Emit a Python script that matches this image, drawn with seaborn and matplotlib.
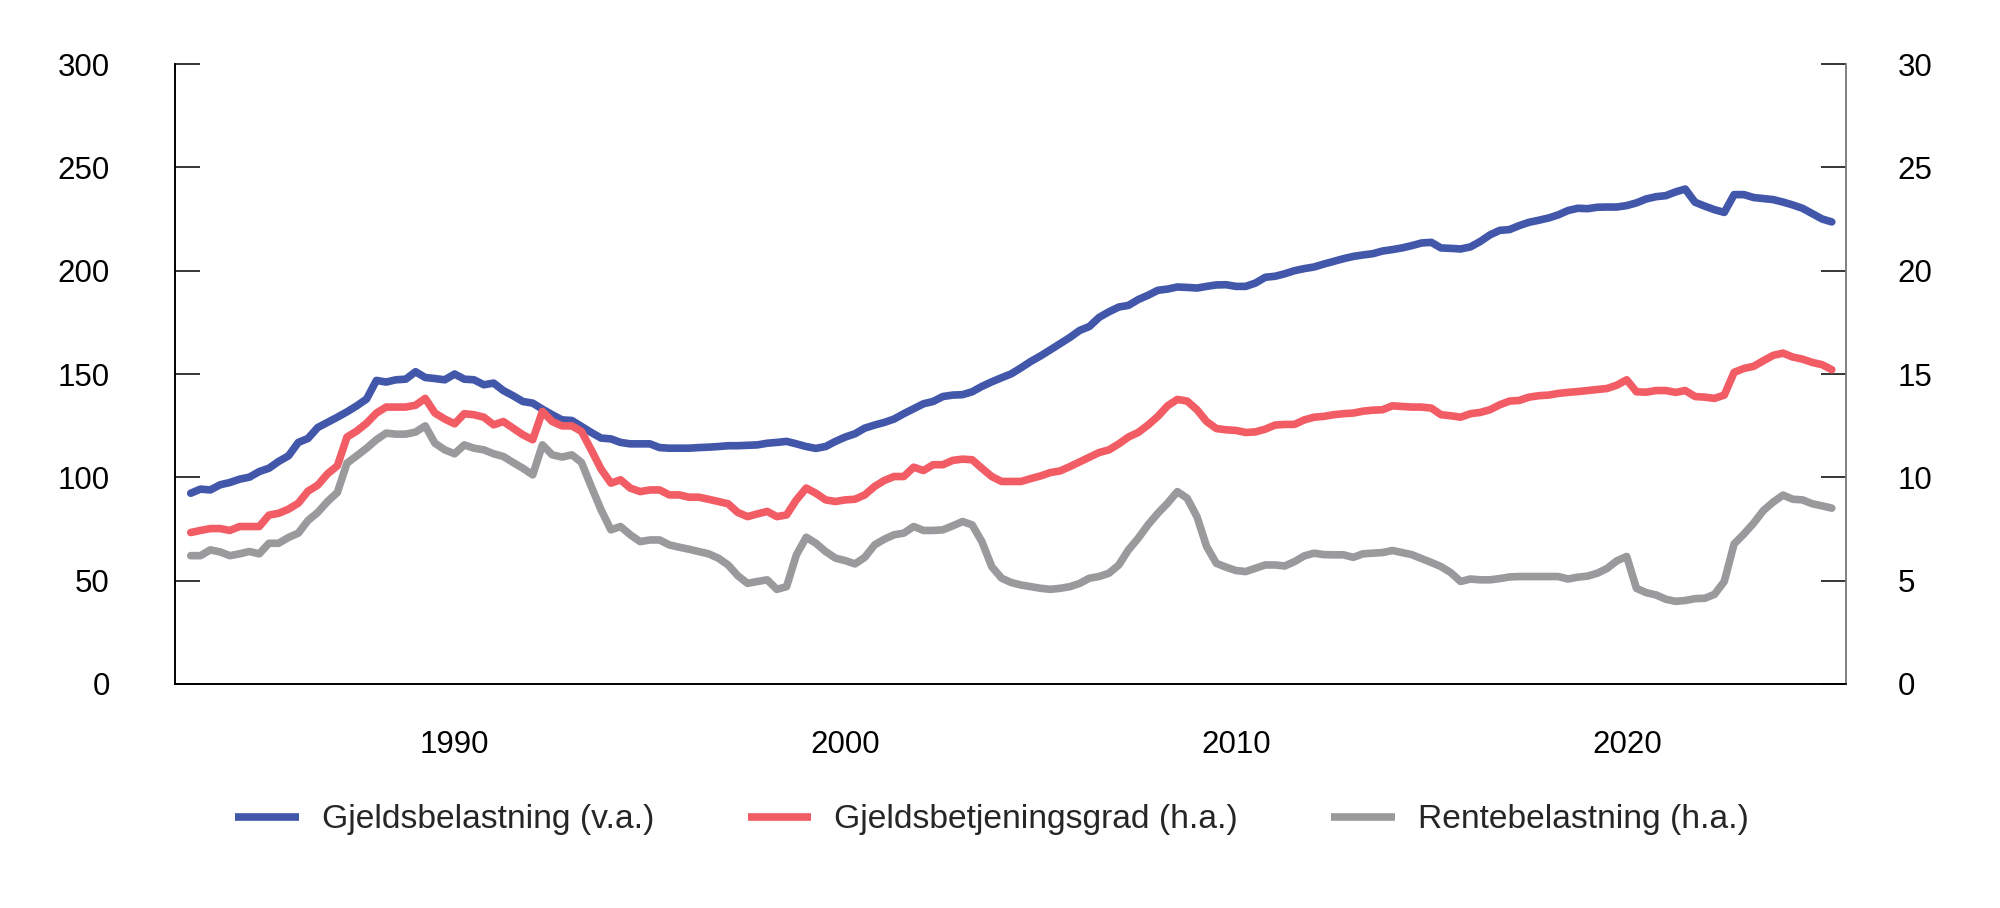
import matplotlib
matplotlib.use("Agg")
import matplotlib.pyplot as plt
import seaborn as sns
import pandas as pd

# quarterly observations, 1983Q1 - 2025Q1
quarters = pd.period_range("1983Q1", "2025Q1", freq="Q")

# Gjeldsbelastning, per cent (left axis)
gjeldsbelastning = [
    92.3, 94.3, 93.9, 96.4, 97.5, 99.1, 100.1, 102.8, 104.4, 107.7,
    110.4, 116.9, 118.8, 124.1, 126.6, 129.1, 131.7, 134.6, 137.9, 146.9,
    146.1, 147.2, 147.5, 151.1, 148.3, 147.8, 147.2, 150.0, 147.5, 147.2,
    144.8, 145.6, 142.0, 139.5, 136.7, 135.9, 133.0, 130.3, 127.8, 127.5,
    124.6, 121.7, 119.0, 118.6, 116.9, 116.2, 116.2, 116.2, 114.4, 114.1,
    114.1, 114.1, 114.4, 114.6, 114.9, 115.3, 115.3, 115.5, 115.7, 116.5,
    116.9, 117.4, 116.2, 114.9, 114.0, 114.9, 117.4, 119.5, 121.1, 123.8,
    125.3, 126.6, 128.2, 130.8, 133.2, 135.6, 136.7, 139.1, 139.8, 140.0,
    141.4, 144.0, 146.2, 148.2, 150.1, 153.0, 156.1, 158.8, 161.7, 164.7,
    167.7, 171.1, 173.0, 177.4, 180.1, 182.4, 183.2, 186.0, 188.1, 190.5,
    191.1, 192.1, 191.9, 191.6, 192.4, 193.1, 193.2, 192.4, 192.4, 194.0,
    196.8, 197.3, 198.5, 200.0, 201.0, 201.8, 203.2, 204.5, 205.8, 206.9,
    207.6, 208.2, 209.5, 210.2, 211.0, 212.1, 213.4, 213.7, 211.0, 210.8,
    210.5, 211.5, 214.1, 217.3, 219.5, 219.9, 221.8, 223.4, 224.4, 225.5,
    227.0, 229.1, 230.2, 230.0, 230.7, 230.8, 230.8, 231.5, 232.8, 234.7,
    235.8, 236.3, 238.1, 239.5, 233.1, 231.2, 229.5, 228.2, 236.8, 236.8,
    235.4, 234.9, 234.4, 233.2, 231.8, 230.2, 227.6, 225.0, 223.6,
]

# Gjeldsbetjeningsgrad, per cent (right axis)
gjeldsbetjeningsgrad = [
    7.33, 7.43, 7.52, 7.52, 7.43, 7.62, 7.62, 7.62, 8.17, 8.26,
    8.46, 8.75, 9.33, 9.62, 10.17, 10.56, 11.95, 12.24, 12.62, 13.11,
    13.40, 13.40, 13.40, 13.49, 13.82, 13.11, 12.82, 12.59, 13.08, 13.03,
    12.91, 12.54, 12.70, 12.38, 12.06, 11.82, 13.19, 12.70, 12.49, 12.49,
    12.22, 11.33, 10.40, 9.72, 9.88, 9.48, 9.31, 9.39, 9.39, 9.15,
    9.15, 9.04, 9.04, 8.94, 8.83, 8.72, 8.30, 8.10, 8.23, 8.35,
    8.10, 8.18, 8.91, 9.48, 9.23, 8.91, 8.83, 8.91, 8.94, 9.15,
    9.56, 9.85, 10.04, 10.04, 10.49, 10.33, 10.61, 10.61, 10.82, 10.88,
    10.85, 10.44, 10.04, 9.80, 9.80, 9.80, 9.94, 10.07, 10.23, 10.31,
    10.52, 10.75, 10.98, 11.20, 11.33, 11.62, 11.95, 12.17, 12.53, 12.95,
    13.46, 13.77, 13.69, 13.27, 12.70, 12.36, 12.30, 12.27, 12.17, 12.20,
    12.33, 12.53, 12.56, 12.56, 12.78, 12.91, 12.95, 13.03, 13.08, 13.11,
    13.20, 13.25, 13.27, 13.46, 13.43, 13.40, 13.40, 13.35, 13.03, 12.98,
    12.91, 13.08, 13.14, 13.27, 13.51, 13.69, 13.72, 13.88, 13.95, 13.98,
    14.06, 14.11, 14.15, 14.20, 14.25, 14.30, 14.46, 14.72, 14.14, 14.12,
    14.20, 14.20, 14.11, 14.20, 13.91, 13.88, 13.82, 13.98, 15.08, 15.27,
    15.37, 15.64, 15.90, 16.01, 15.82, 15.72, 15.56, 15.45, 15.21,
]

# Rentebelastning, per cent (right axis)
rentebelastning = [
    6.21, 6.21, 6.49, 6.39, 6.21, 6.30, 6.41, 6.30, 6.81, 6.81,
    7.09, 7.30, 7.91, 8.30, 8.83, 9.27, 10.69, 11.04, 11.41, 11.82,
    12.14, 12.09, 12.09, 12.19, 12.49, 11.65, 11.33, 11.14, 11.57, 11.41,
    11.33, 11.14, 11.01, 10.72, 10.44, 10.12, 11.57, 11.09, 10.98, 11.09,
    10.72, 9.56, 8.43, 7.46, 7.62, 7.22, 6.89, 6.97, 6.97, 6.73,
    6.62, 6.52, 6.41, 6.30, 6.09, 5.76, 5.24, 4.87, 4.96, 5.04,
    4.58, 4.71, 6.25, 7.10, 6.81, 6.41, 6.09, 5.97, 5.81, 6.13,
    6.73, 7.01, 7.22, 7.30, 7.62, 7.43, 7.43, 7.46, 7.65, 7.86,
    7.70, 6.89, 5.68, 5.12, 4.91, 4.79, 4.71, 4.63, 4.58, 4.63,
    4.71, 4.87, 5.12, 5.20, 5.36, 5.76, 6.49, 7.05, 7.70, 8.26,
    8.75, 9.31, 8.99, 8.09, 6.65, 5.84, 5.65, 5.49, 5.44, 5.60,
    5.76, 5.76, 5.71, 5.92, 6.20, 6.33, 6.26, 6.25, 6.25, 6.13,
    6.30, 6.33, 6.36, 6.46, 6.36, 6.26, 6.07, 5.88, 5.68, 5.39,
    4.96, 5.08, 5.04, 5.04, 5.10, 5.18, 5.20, 5.20, 5.20, 5.20,
    5.20, 5.08, 5.17, 5.22, 5.36, 5.59, 5.96, 6.17, 4.63, 4.42,
    4.31, 4.10, 4.00, 4.04, 4.13, 4.15, 4.34, 4.96, 6.78, 7.26,
    7.78, 8.39, 8.80, 9.14, 8.94, 8.91, 8.72, 8.62, 8.51,
]

left_ticks = [0, 50, 100, 150, 200, 250, 300]
right_ticks = [0, 5, 10, 15, 20, 25, 30]
year_ticks = ["1990", "2000", "2010", "2020"]
labels = ["Gjeldsbelastning (v.a.)", "Gjeldsbetjeningsgrad (h.a.)", "Rentebelastning (h.a.)"]
colors = ["#4257aa", "#f25c64", "#9a999c"]

sns.set_style("white")
plt.rcParams["font.family"] = ["Liberation Sans", "DejaVu Sans"]

dates = quarters.to_timestamp(how="end").normalize()
df = pd.DataFrame({"date": dates, "gb": gjeldsbelastning,
                   "gbg": gjeldsbetjeningsgrad, "rb": rentebelastning})

fig = plt.figure(figsize=(20, 9.08), dpi=100)
ax = fig.add_axes([0.0875, 0.2467, 0.8355, 0.6828])
ax2 = ax.twinx()

lw = 5.5
sns.lineplot(data=df, x="date", y="gb", ax=ax, color=colors[0], linewidth=lw,
             solid_capstyle="round", label=labels[0])
sns.lineplot(data=df, x="date", y="gbg", ax=ax2, color=colors[1], linewidth=lw,
             solid_capstyle="round", label=labels[1])
sns.lineplot(data=df, x="date", y="rb", ax=ax2, color=colors[2], linewidth=lw,
             solid_capstyle="round", label=labels[2])

for a in (ax, ax2):
    if a.get_legend() is not None:
        a.get_legend().remove()
    a.set_xlabel("")
    a.set_ylabel("")

ax.set_xlim(pd.Timestamp("1982-11-04"), pd.Timestamp("2025-08-11"))
ax.set_ylim(0, 300)
ax2.set_ylim(0, 30)
ax.set_yticks(left_ticks)
ax2.set_yticks(right_ticks)
ax.set_xticks([pd.Timestamp(y + "-01-01") for y in year_ticks])
ax.set_xticklabels(year_ticks)

ax.tick_params(axis="y", direction="in", length=18, width=1.1, pad=47,
               labelsize=22.5, colors="black")
ax2.tick_params(axis="y", direction="in", length=18, width=1.1, pad=37,
                labelsize=22.5, colors="black")
ax.tick_params(axis="x", length=0, pad=33, labelsize=22.5, colors="black")

for a in (ax, ax2):
    a.spines["top"].set_visible(False)
    a.spines["left"].set_color("black")
    a.spines["bottom"].set_color("black")
    a.spines["right"].set_color("#808080")
    for s in a.spines.values():
        s.set_linewidth(1.2)
    a.grid(False)

handles = ax.get_lines()[:1] + ax2.get_lines()[:2]
leg = fig.legend(handles, labels, loc="center", bbox_to_anchor=(0.496, 0.097),
                 ncol=3, frameon=False, fontsize=24.2, handlelength=1.9,
                 handletextpad=0.68, columnspacing=2.77)
for line in leg.get_lines():
    line.set_solid_capstyle("butt")
    line.set_linewidth(5.5)

fig.savefig("out.png", dpi=100)
